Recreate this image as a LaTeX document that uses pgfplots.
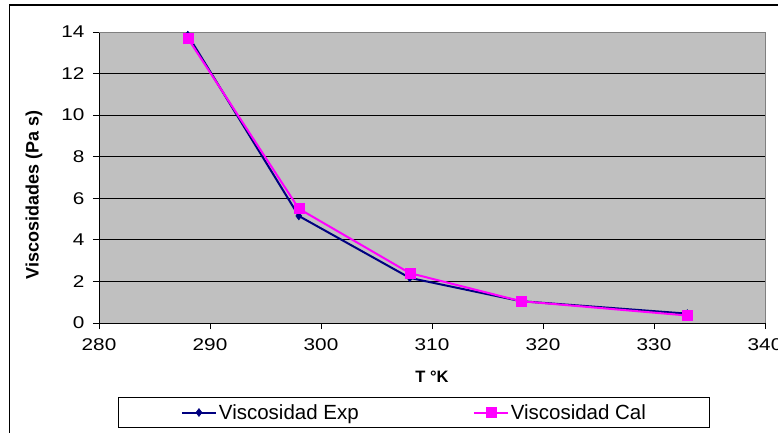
\documentclass[border=0pt]{standalone}
\usepackage{pgfplots}
\pgfplotsset{compat=1.18}
\usepackage{fontspec}
\setmainfont{Liberation Sans}
\newfontfamily\tickfont[FakeStretch=1.22]{Liberation Sans}
\definecolor{plotbg}{RGB}{192,192,192}
\definecolor{expc}{RGB}{0,0,128}
\definecolor{calc}{RGB}{255,0,255}
\begin{document}
\begin{tikzpicture}[x=1pt,y=1pt]
\useasboundingbox (0,0) rectangle (778,432);
\begin{scope}
\clip (0,0) rectangle (778,432);
\draw[line width=1.5pt] (9.5,-20) -- (9.5,427) -- (800,427);
\end{scope}
\begin{axis}[
  at={(99pt,109pt)}, anchor=south west,
  scale only axis, width=666pt, height=291pt,
  xmin=280, xmax=340, ymin=0, ymax=14,
  xtick={280,290,...,340}, ytick={0,2,...,14},
  axis x line*=bottom, axis y line*=left,
  axis line style={black, line width=1pt},
  tick align=outside, major tick length=6pt,
  tick style={black, line width=1pt},
  axis background/.style={fill=plotbg},
  ymajorgrids, grid style={black, line width=0.8pt},
  /pgf/number format/assume math mode=true,
  ticklabel style={font=\tickfont\fontsize{17}{17}\selectfont},
  xticklabel style={yshift=-6pt},
  yticklabel style={xshift=-5pt},
  xlabel={T °K}, ylabel={Viscosidades (Pa s)},
  xlabel style={font=\bfseries\fontsize{16.5}{16.5}\selectfont, at={(axis description cs:0.5,-0.186)}, anchor=center},
  ylabel style={font=\bfseries\fontsize{18}{18}\selectfont, at={(axis description cs:-0.0976,0.44)}, anchor=center},
  legend columns=2,
  legend style={at={(axis description cs:0.4737,-0.3076)}, anchor=center,
    draw=black, line width=1pt, fill=white, font=\fontsize{20.5}{20.5}\selectfont,
    inner xsep=62pt, inner ysep=4.5pt,
    /tikz/every even column/.append style={column sep=112pt}},
  legend image code/.code={\draw[mark repeat=2,mark phase=2,#1] plot coordinates {(0pt,0pt) (17pt,0pt) (34pt,0pt)};},
  clip=false,
]
\addplot[expc, line width=2pt, mark=diamond*, mark size=4pt, mark options={solid, fill=expc, line width=0.5pt}]
  coordinates {(288,13.85) (298,5.15) (308,2.17) (318,1.05) (333,0.45)};
\addlegendentry{Viscosidad Exp}
\addplot[calc, line width=2pt, mark=square*, mark size=5pt, mark options={solid, fill=calc, line width=0.5pt}]
  coordinates {(288,13.7) (298,5.5) (308,2.4) (318,1.05) (333,0.36)};
\addlegendentry{Viscosidad Cal}
\draw[gray, line width=1pt] (rel axis cs:0,1) -- (rel axis cs:1,1) -- (rel axis cs:1,0);
\end{axis}
\end{tikzpicture}
\end{document}
